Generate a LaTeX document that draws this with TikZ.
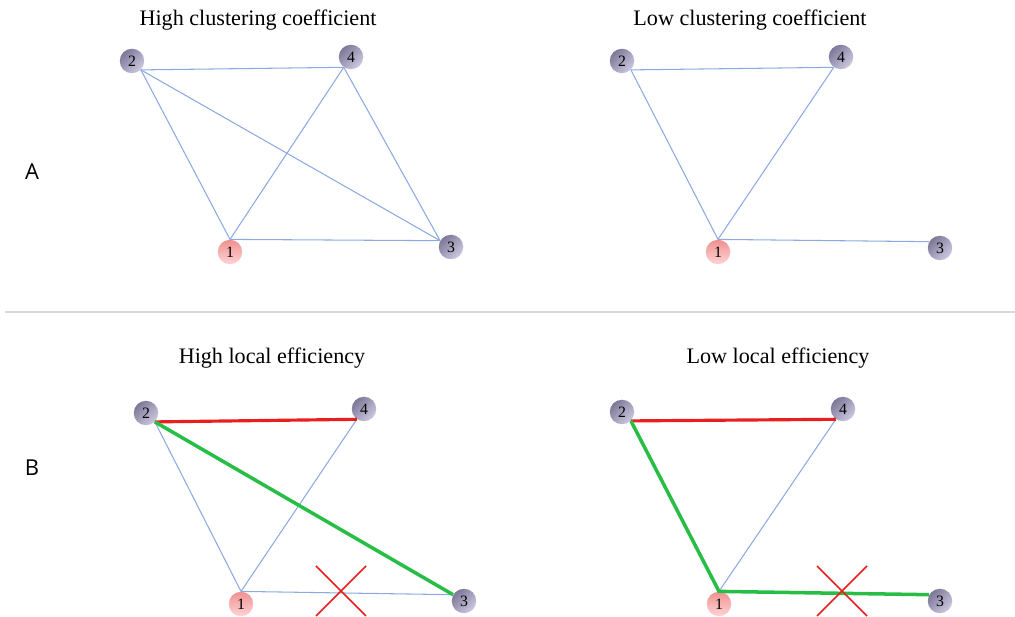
\documentclass[tikz,border=0pt]{standalone}
\usepackage{fontspec}
\setmainfont{Liberation Serif}
\newfontfamily\panelfont{Open Sans}
\usetikzlibrary{calc}
\definecolor{edgeblue}{RGB}{140,170,225}
\definecolor{ballgray}{RGB}{125,120,150}
\definecolor{balllight}{RGB}{205,200,225}
\definecolor{ballpink}{RGB}{240,145,145}
\definecolor{pinklight}{RGB}{255,212,212}
\definecolor{effgreen}{RGB}{40,190,70}
\definecolor{cutred}{RGB}{235,30,30}
\tikzset{
  vertex/.style={circle, inner sep=0pt, minimum size=0.49cm, font=\fontsize{9}{10}\selectfont,
    top color=ballgray, bottom color=balllight, shading angle=45},
  hub/.style={vertex, top color=ballpink, bottom color=pinklight},
  link/.style={edgeblue, line width=0.6pt},
  redlink/.style={cutred, line width=1.8pt},
  greenlink/.style={effgreen, line width=2pt},
  cut/.style={cutred, line width=0.9pt},
  caption/.style={font=\fontsize{12.6}{14}\selectfont},
  panel/.style={font=\panelfont\fontsize{12.5}{14}\selectfont}
}
\begin{document}
\begin{tikzpicture}[x=0.02cm, y=-0.02cm]
    \useasboundingbox (0,0) rectangle (1015,617);

    % separator
    \draw[gray!30, line width=1.2pt] (5,312) -- (1015,312);

    \node[panel] (labA) at (32,172) {A};
    \node[panel] (labB) at (32,468) {B};

    % A, left
    \node[caption] (tAl) at (258,20) {High clustering coefficient};
    \node[vertex] (a2) at (132,61) {2};
    \node[vertex] (a4) at (351,57) {4};
    \node[hub] (a1) at (230,252) {1};
    \node[vertex] (a3) at (451,247) {3};
    \draw[link] (a2.-45) -- (a4.-125);
    \draw[link] (a2.-45) -- (a1.north);
    \draw[link] (a2.-45) -- (a3.150);
    \draw[link] (a4.-125) -- (a1.north);
    \draw[link] (a4.-125) -- (a3.150);
    \draw[link] (a1.north) -- (a3.150);

    % A, right
    \node[caption] (tAr) at (750,20) {Low clustering coefficient};
    \node[vertex] (b2) at (622,61) {2};
    \node[vertex] (b4) at (841,57) {4};
    \node[hub] (b1) at (718,252) {1};
    \node[vertex] (b3) at (940,248) {3};
    \draw[link] (b2.-45) -- (b4.-125);
    \draw[link] (b2.-45) -- (b1.north);
    \draw[link] (b4.-125) -- (b1.north);
    \draw[link] (b1.north) -- (b3.150);

    % B, left
    \node[caption] (tBl) at (272,358) {High local efficiency};
    \node[vertex] (c2) at (146,413) {2};
    \node[vertex] (c4) at (364,409) {4};
    \node[hub] (c1) at (241,604) {1};
    \node[vertex] (c3) at (464,601) {3};
    \draw[link] (c2.-45) -- (c1.north);
    \draw[link] (c4.-125) -- (c1.north);
    \draw[link] (c1.north) -- (c3.150);
    \draw[redlink] (c2.-45) -- (c4.-125);
    \draw[greenlink] (c2.-45) -- (c3.150);
    \coordinate (x1) at (341,591);
    \draw[cut] ($(x1)+(-25,-25)$) -- ($(x1)+(25,25)$);
    \draw[cut] ($(x1)+(25,-25)$) -- ($(x1)+(-25,25)$);

    % B, right
    \node[caption] (tBr) at (778,358) {Low local efficiency};
    \node[vertex] (d2) at (622,412) {2};
    \node[vertex] (d4) at (843,409) {4};
    \node[hub] (d1) at (719,604) {1};
    \node[vertex] (d3) at (940,601) {3};
    \draw[link] (d4.-125) -- (d1.north);
    \draw[redlink] (d2.-45) -- (d4.-125);
    \draw[greenlink] (d2.-45) -- (d1.north) -- (d3.150);
    \coordinate (x2) at (842,591);
    \draw[cut] ($(x2)+(-25,-25)$) -- ($(x2)+(25,25)$);
    \draw[cut] ($(x2)+(25,-25)$) -- ($(x2)+(-25,25)$);
\end{tikzpicture}
\end{document}
